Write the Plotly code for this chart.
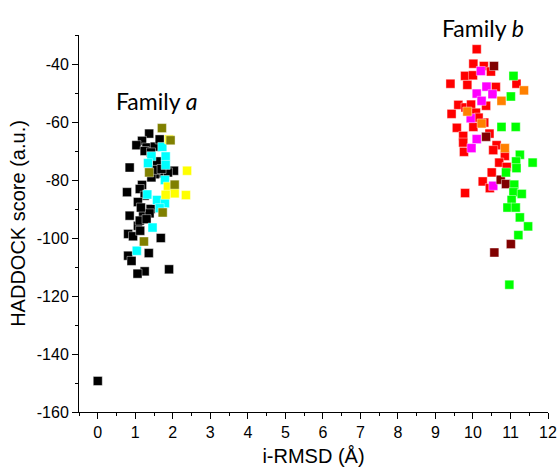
import plotly.graph_objects as go

# ---- Family a ----
black_x = [0.00, 1.37, 1.18, 1.03, 1.30, 1.52, 1.25, 1.65, 1.42, 1.58, 0.85, 2.03, 1.65, 1.87, 1.52,
           1.43, 1.18, 1.12, 0.78, 1.25, 1.07, 1.41, 1.21, 1.38, 0.85, 1.07, 1.12, 0.81, 0.94, 1.68,
           1.36, 0.81, 0.90, 1.90, 1.25, 1.06, 1.15, 1.30, 1.55, 1.70, 1.13]
black_y = [-149.3, -64.0, -66.5, -68.0, -68.8, -68.5, -70.0, -66.0, -70.5, -73.6, -75.7, -76.8, -77.7, -77.4, -78.0,
           -79.1, -81.7, -83.1, -84.2, -85.4, -87.6, -90.0, -91.7, -91.5, -92.3, -95.8, -94.0, -98.6, -99.4, -100.0,
           -105.2, -106.1, -107.9, -110.8, -111.5, -112.3, -89.5, -93.5, -76.5, -76.2, -97.5]

cyan_x = [1.72, 1.43, 1.81, 1.34, 1.81, 1.79, 1.32, 1.58, 1.79, 1.65, 1.46, 1.04]
cyan_y = [-68.6, -71.8, -71.9, -74.2, -74.8, -80.0, -85.0, -86.9, -88.0, -89.7, -96.4, -104.4]

yellow_x = [1.90, 2.38, 1.87, 2.05, 2.35, 1.81]
yellow_y = [-66.0, -76.8, -82.3, -84.6, -85.2, -85.1]

olive_x = [1.71, 1.94, 1.37, 2.05, 1.73, 1.23]
olive_y = [-62.1, -66.3, -77.4, -81.6, -91.2, -101.2]

# ---- Family b ----
red_x = [10.10, 10.01, 10.29, 10.48, 9.79, 10.00, 9.40, 9.85, 11.16, 10.61, 10.35, 9.61, 9.80, 9.95,
         10.08, 9.43, 10.30, 10.01, 9.57, 10.44, 9.74, 9.74, 9.76, 10.63, 10.54, 10.85, 10.70, 10.90,
         10.50, 10.26, 10.45, 9.79, 10.15]
red_y = [-34.9, -39.9, -40.7, -42.6, -44.1, -43.9, -46.8, -47.2, -46.8, -47.9, -54.4, -54.1, -55.0, -54.0,
         -56.8, -57.2, -60.2, -61.7, -62.0, -64.0, -64.8, -67.1, -70.3, -68.0, -69.7, -71.7, -74.0, -75.5,
         -77.4, -80.5, -82.8, -84.5, -58.5]

magenta_x = [10.21, 10.36, 10.10, 10.52, 10.23, 9.94, 10.10, 9.96, 10.54]
magenta_y = [-42.4, -47.8, -50.2, -50.4, -52.7, -58.7, -65.9, -69.0, -82.0]

orange_x = [11.36, 10.76, 9.85, 10.23, 10.85]
orange_y = [-49.1, -52.7, -56.4, -60.5, -69.0]

darkred_x = [10.56, 10.35, 10.74, 10.88, 11.01, 10.57]
darkred_y = [-40.7, -65.1, -79.9, -81.4, -102.1, -105.0]

lime_x = [11.08, 11.01, 10.76, 11.14, 11.25, 11.15, 11.59, 11.16, 10.88, 11.10, 11.08, 11.30, 11.03,
          10.92, 11.14, 11.25, 11.47, 11.21, 10.97]
lime_y = [-44.1, -51.2, -61.7, -61.7, -71.3, -73.6, -74.0, -75.9, -77.4, -81.6, -84.2, -84.8, -86.9,
          -89.5, -89.5, -92.9, -96.0, -99.0, -116.1]

series = [
    (black_x, black_y, "#000000"),
    (cyan_x, cyan_y, "#00FFFF"),
    (yellow_x, yellow_y, "#FFFF00"),
    (olive_x, olive_y, "#808000"),
    (red_x, red_y, "#FF0000"),
    (magenta_x, magenta_y, "#FF00FF"),
    (orange_x, orange_y, "#FF8000"),
    (darkred_x, darkred_y, "#800000"),
    (lime_x, lime_y, "#00FF00"),
]

x_ticks = list(range(0, 13))
y_ticks = [-40, -60, -80, -100, -120, -140, -160]

fig = go.Figure()
for xs, ys, c in series:
    fig.add_trace(go.Scatter(
        x=xs, y=ys, mode="markers",
        marker=dict(symbol="square", size=9, color=c,
                    line=dict(width=0.6, color="rgba(255,255,255,0.7)")),
        showlegend=False, hoverinfo="skip"))

sans = "Liberation Sans, Arial, sans-serif"
axis_font = dict(family=sans, size=16, color="#000000")
title_font = dict(family=sans, size=20, color="#000000")
fig.update_layout(
    width=560, height=472,
    margin=dict(l=79, r=12, t=35, b=60),
    paper_bgcolor="white", plot_bgcolor="white",
    showlegend=False,
    xaxis=dict(range=[-0.5, 12], tickvals=x_ticks, ticktext=[str(v) for v in x_ticks],
               showgrid=False, zeroline=False, showline=True, linecolor="black", linewidth=1,
               ticks="outside", ticklen=6, tickcolor="black", tickfont=axis_font, automargin=False,
               minor=dict(dtick=0.5, tick0=0, ticks="outside", ticklen=3, tickcolor="black"),
               title=dict(text="i-RMSD (Å)", font=title_font, standoff=8)),
    yaxis=dict(range=[-160, -30], tickvals=y_ticks, ticktext=[str(v) for v in y_ticks],
               showgrid=False, zeroline=False, showline=True, linecolor="black", linewidth=1,
               ticks="outside", ticklen=6, tickcolor="black", tickfont=axis_font, automargin=False,
               minor=dict(dtick=10, tick0=-160, ticks="outside", ticklen=3, tickcolor="black"),
               title=dict(text="HADDOCK score (a.u.)", font=title_font, standoff=5)),
)

ann_font = dict(family="Lato, Carlito, Calibri, sans-serif", size=23, color="black")
fig.add_annotation(x=1.58, y=-52.7, xref="x", yref="y", text="Family <i>a</i>",
                   showarrow=False, font=ann_font, xanchor="center", yanchor="middle")
fig.add_annotation(x=10.28, y=1.018, xref="x", yref="paper", text="Family <i>b</i>",
                   showarrow=False, font=ann_font, xanchor="center", yanchor="middle")

fig.write_html("out.html")
